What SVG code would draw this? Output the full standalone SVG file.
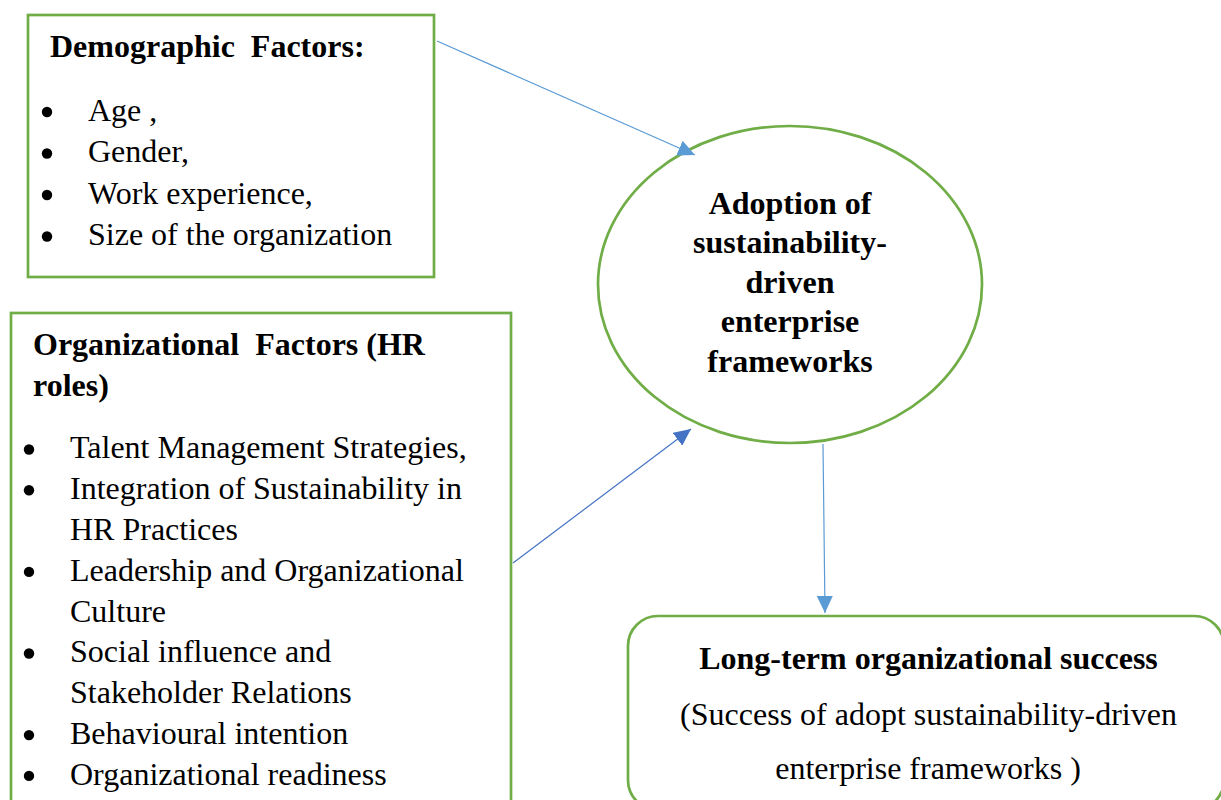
<svg xmlns="http://www.w3.org/2000/svg" width="1221" height="800" viewBox="0 0 1221 800">
<style>
  .box { fill: #ffffff; stroke: #70AD47; stroke-width: 2.7; }
  .t { font-family: "Liberation Serif", "Times New Roman", serif; font-size: 32px; fill: #000000; }
  .b { font-weight: bold; }
  .mid { text-anchor: middle; }
  .dot { fill: #000000; }
  .c1 { stroke: #5B9BD5; stroke-width: 1.2; fill: none; }
  .c2 { stroke: #4472C4; stroke-width: 1.2; fill: none; }
</style>
<defs>
  <marker id="ahLight" markerUnits="userSpaceOnUse" markerWidth="18" markerHeight="16" refX="17" refY="8" orient="auto">
    <path d="M0,0 L17,8 L0,16 z" fill="#5B9BD5"/>
  </marker>
  <marker id="ahDark" markerUnits="userSpaceOnUse" markerWidth="18" markerHeight="16" refX="17" refY="8" orient="auto">
    <path d="M0,0 L17,8 L0,16 z" fill="#4472C4"/>
  </marker>
</defs>
<rect x="0" y="0" width="1221" height="800" fill="#ffffff"/>

<g id="demographic">
  <rect class="box" x="28" y="15" width="406" height="262"/>
  <text class="t b" x="50" y="57" xml:space="preserve">Demographic  Factors:</text>
  <circle class="dot" cx="47" cy="112" r="5.2"/>
  <text class="t" x="88" y="120.5">Age ,</text>
  <circle class="dot" cx="47" cy="153.5" r="5.2"/>
  <text class="t" x="88" y="162">Gender,</text>
  <circle class="dot" cx="47" cy="195" r="5.2"/>
  <text class="t" x="88" y="203.5">Work experience,</text>
  <circle class="dot" cx="47" cy="236.5" r="5.2"/>
  <text class="t" x="88" y="245">Size of the organization</text>
</g>

<g id="organizational">
  <rect class="box" x="11" y="313" width="500" height="520"/>
  <text class="t b" x="33" y="355" xml:space="preserve">Organizational  Factors (HR</text>
  <text class="t b" x="33" y="396">roles)</text>
  <circle class="dot" cx="29" cy="449.5" r="5.2"/>
  <text class="t" x="70" y="458.3">Talent Management Strategies,</text>
  <circle class="dot" cx="29" cy="490.3" r="5.2"/>
  <text class="t" x="70" y="499.1">Integration of Sustainability in</text>
  <text class="t" x="70" y="539.9">HR Practices</text>
  <circle class="dot" cx="29" cy="571.9" r="5.2"/>
  <text class="t" x="70" y="580.7">Leadership and Organizational</text>
  <text class="t" x="70" y="621.5">Culture</text>
  <circle class="dot" cx="29" cy="653.5" r="5.2"/>
  <text class="t" x="70" y="662.3">Social influence and</text>
  <text class="t" x="70" y="703.1">Stakeholder Relations</text>
  <circle class="dot" cx="29" cy="735.1" r="5.2"/>
  <text class="t" x="70" y="743.9">Behavioural intention</text>
  <circle class="dot" cx="29" cy="775.9" r="5.2"/>
  <text class="t" x="70" y="784.7">Organizational readiness</text>
</g>

<g id="adoption">
  <ellipse class="box" cx="790" cy="284.5" rx="192" ry="158.5"/>
  <text class="t b mid" x="790" y="213.5">Adoption of</text>
  <text class="t b mid" x="790" y="253">sustainability-</text>
  <text class="t b mid" x="790" y="292.5">driven</text>
  <text class="t b mid" x="790" y="332">enterprise</text>
  <text class="t b mid" x="790" y="371.5">frameworks</text>
</g>

<g id="success">
  <rect class="box" x="628" y="616" width="596" height="194" rx="30" ry="30"/>
  <text class="t b mid" x="928.5" y="668.5">Long-term organizational success</text>
  <text class="t mid" x="928.5" y="724.5">(Success of adopt sustainability-driven</text>
  <text class="t mid" x="928" y="778.5">enterprise frameworks )</text>
</g>

<g id="connectors">
  <line class="c1" x1="437" y1="41" x2="695" y2="155" marker-end="url(#ahLight)"/>
  <line class="c2" x1="513" y1="563" x2="691" y2="429" marker-end="url(#ahDark)"/>
  <line class="c1" x1="823" y1="444" x2="825" y2="613" marker-end="url(#ahLight)"/>
</g>
</svg>
